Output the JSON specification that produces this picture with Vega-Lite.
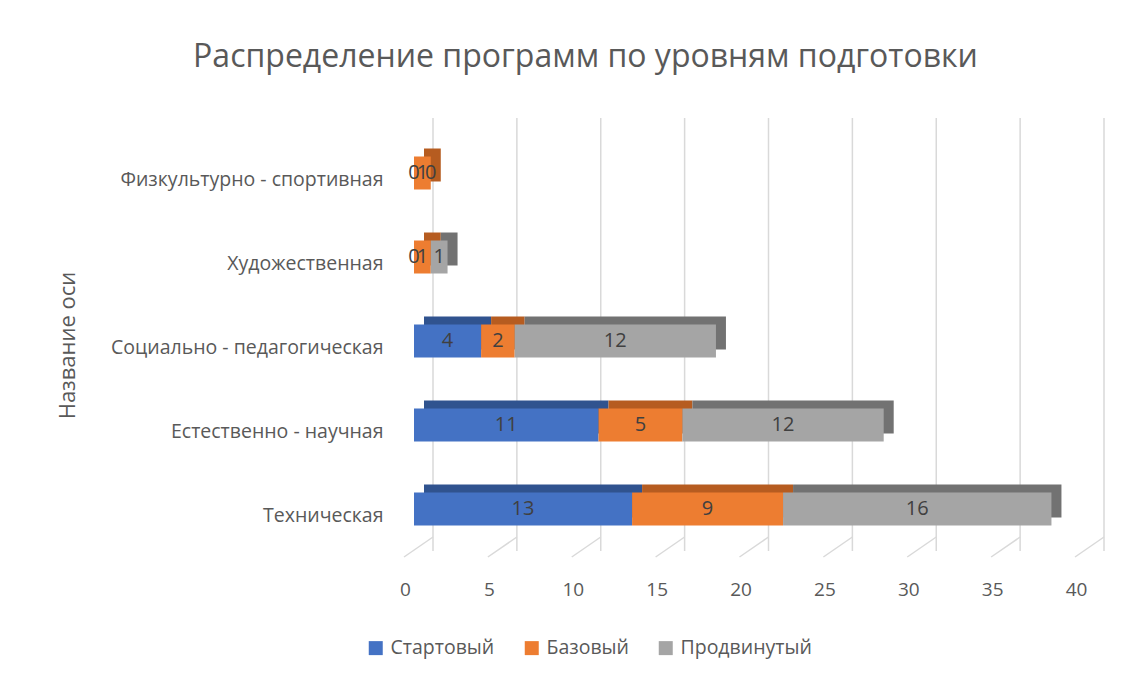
{
  "$schema": "https://vega.github.io/schema/vega-lite/v6.json",
  "autosize": "none",
  "width": 671,
  "height": 420,
  "padding": {"left": 414, "top": 131, "right": 63, "bottom": 125},
  "background": "white",
  "title": {
    "text": "Распределение программ по уровням подготовки",
    "anchor": "middle",
    "frame": "group",
    "dx": -164,
    "offset": 43,
    "font": "Open Sans",
    "fontSize": 32,
    "fontWeight": "normal",
    "color": "#595959"
  },
  "config": {
    "view": {"stroke": null},
    "font": "Open Sans"
  },
  "datasets": {
    "bars": [
      {"cat": "Физкультурно - спортивная", "level": "Стартовый", "v": 0, "o": 1},
      {"cat": "Физкультурно - спортивная", "level": "Базовый", "v": 1, "o": 2},
      {"cat": "Физкультурно - спортивная", "level": "Продвинутый", "v": 0, "o": 3},
      {"cat": "Художественная", "level": "Стартовый", "v": 0, "o": 1},
      {"cat": "Художественная", "level": "Базовый", "v": 1, "o": 2},
      {"cat": "Художественная", "level": "Продвинутый", "v": 1, "o": 3},
      {"cat": "Социально - педагогическая", "level": "Стартовый", "v": 4, "o": 1},
      {"cat": "Социально - педагогическая", "level": "Базовый", "v": 2, "o": 2},
      {"cat": "Социально - педагогическая", "level": "Продвинутый", "v": 12, "o": 3},
      {"cat": "Естественно - научная", "level": "Стартовый", "v": 11, "o": 1},
      {"cat": "Естественно - научная", "level": "Базовый", "v": 5, "o": 2},
      {"cat": "Естественно - научная", "level": "Продвинутый", "v": 12, "o": 3},
      {"cat": "Техническая", "level": "Стартовый", "v": 13, "o": 1},
      {"cat": "Техническая", "level": "Базовый", "v": 9, "o": 2},
      {"cat": "Техническая", "level": "Продвинутый", "v": 16, "o": 3}
    ],
    "grid": [
      {"g": 0}, {"g": 5}, {"g": 10}, {"g": 15}, {"g": 20},
      {"g": 25}, {"g": 30}, {"g": 35}, {"g": 40}
    ]
  },
  "resolve": {"scale": {"color": "independent"}},
  "layer": [
    {
      "data": {"name": "grid"},
      "mark": {"type": "rule", "color": "#D9D9D9", "strokeWidth": 1.5, "xOffset": 19, "yOffset": -13},
      "encoding": {
        "x": {
          "field": "g", "type": "quantitative",
          "scale": {"domain": [0, 40], "nice": false},
          "axis": {
            "values": [0, 5, 10, 15, 20, 25, 30, 35, 40],
            "title": null, "domain": false, "ticks": false, "grid": false,
            "labelFlush": false, "labelOverlap": false,
            "labelOffset": -9, "labelPadding": 29,
            "labelFontSize": 19, "labelColor": "#595959", "labelFont": "Open Sans"
          }
        }
      }
    },
    {
      "data": {"name": "grid"},
      "mark": {"type": "rule", "color": "#D9D9D9", "strokeWidth": 1.5, "xOffset": -10, "x2Offset": 19, "yOffset": 6, "y2Offset": -14},
      "encoding": {
        "x": {"field": "g", "type": "quantitative"},
        "x2": {"field": "g"},
        "y": {"datum": "Техническая", "type": "nominal", "bandPosition": 1},
        "y2": {"datum": "Техническая", "bandPosition": 1}
      }
    },
    {
      "data": {"name": "bars"},
      "mark": {"type": "bar", "size": 33, "xOffset": 10, "yOffset": -8},
      "encoding": {
        "y": {
          "field": "cat", "type": "nominal",
          "sort": ["Физкультурно - спортивная", "Художественная", "Социально - педагогическая", "Естественно - научная", "Техническая"],
          "scale": {"padding": 0, "paddingInner": 0, "paddingOuter": 0},
          "axis": {
            "title": "Название оси",
            "titleFontSize": 22, "titleFontWeight": "normal", "titleColor": "#595959", "titleFont": "Open Sans",
            "titleAngle": -90, "titleX": -347, "titleY": 214, "titleAlign": "center", "titleBaseline": "middle",
            "domain": false, "ticks": false, "grid": false,
            "labelPadding": 31, "labelOffset": 7, "labelFontSize": 19.5, "labelColor": "#595959",
            "labelFont": "Open Sans", "labelLimit": 500
          }
        },
        "x": {"field": "v", "type": "quantitative", "stack": "zero"},
        "order": {"field": "o", "type": "quantitative"},
        "color": {
          "field": "level", "type": "nominal",
          "scale": {"domain": ["Стартовый", "Базовый", "Продвинутый"], "range": ["#30538F", "#B65C20", "#727272"]},
          "legend": null
        }
      }
    },
    {
      "data": {"name": "bars"},
      "mark": {"type": "bar", "size": 33},
      "encoding": {
        "y": {
          "field": "cat", "type": "nominal",
          "sort": ["Физкультурно - спортивная", "Художественная", "Социально - педагогическая", "Естественно - научная", "Техническая"]
        },
        "x": {"field": "v", "type": "quantitative", "stack": "zero"},
        "order": {"field": "o", "type": "quantitative"},
        "color": {
          "field": "level", "type": "nominal",
          "scale": {"domain": ["Стартовый", "Базовый", "Продвинутый"], "range": ["#4472C4", "#ED7D31", "#A5A5A5"]},
          "legend": {
            "title": null, "orient": "none", "direction": "horizontal",
            "legendX": -48, "legendY": 507,
            "symbolType": "square", "symbolSize": 196, "symbolStrokeWidth": 0,
            "labelFontSize": 19.5, "labelColor": "#595959", "labelOffset": 5, "labelFont": "Open Sans",
            "columnPadding": 27, "labelLimit": 300
          }
        }
      }
    },
    {
      "data": {"name": "bars"},
      "transform": [
        {"stack": "v", "groupby": ["cat"], "sort": [{"field": "o"}], "as": ["s0", "s1"]},
        {"calculate": "(datum.s0 + datum.s1) / 2", "as": "mid"}
      ],
      "mark": {"type": "text", "fontSize": 20, "color": "#404040", "baseline": "middle", "font": "Open Sans"},
      "encoding": {
        "y": {
          "field": "cat", "type": "nominal",
          "sort": ["Физкультурно - спортивная", "Художественная", "Социально - педагогическая", "Естественно - научная", "Техническая"]
        },
        "x": {"field": "mid", "type": "quantitative"},
        "text": {"field": "v", "type": "quantitative"}
      }
    }
  ]
}
